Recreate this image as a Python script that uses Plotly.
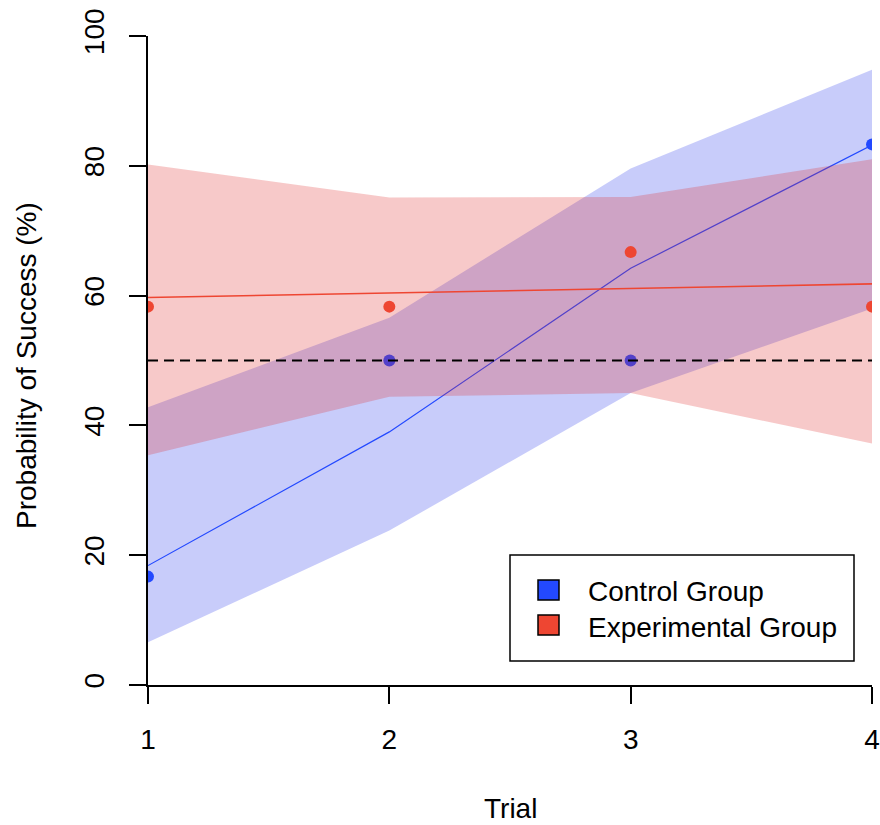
import plotly.graph_objects as go

# ---------------- data ----------------
trials = [1, 2, 3, 4]
control_obs = [16.7, 50.0, 50.0, 83.3]
exp_obs = [58.3, 58.3, 66.7, 58.3]
control_fit = [18.4, 39.0, 64.2, 83.2]
exp_fit = [59.7, 60.4, 61.1, 61.8]
control_lo = [6.6, 23.8, 45.0, 58.0]
control_hi = [42.8, 56.6, 79.6, 94.8]
exp_lo = [35.4, 44.4, 45.0, 37.2]
exp_hi = [80.2, 75.1, 75.2, 81.0]
chance_level = 50
y_ticks = [0, 20, 40, 60, 80, 100]
series_names = ["Control Group", "Experimental Group"]

# ---------------- styles ----------------
BLUE = "#2349FF"
RED = "#EE4632"
BAND_BLUE = "rgba(35,51,235,0.25)"
BAND_RED = "rgba(223,39,39,0.25)"
FONT = "Liberation Sans, Arial, sans-serif"
FS = 28

fig = go.Figure()

def band(lo, hi, color):
    return go.Scatter(
        x=trials + trials[::-1],
        y=hi + lo[::-1],
        fill="toself",
        fillcolor=color,
        mode="none",
        hoverinfo="skip",
        showlegend=False,
    )

# control group
fig.add_trace(band(control_lo, control_hi, BAND_BLUE))
fig.add_trace(go.Scatter(x=trials, y=control_fit, mode="lines",
                         line=dict(color=BLUE, width=1.2), showlegend=False))
fig.add_trace(go.Scatter(x=trials, y=control_obs, mode="markers",
                         marker=dict(color=BLUE, size=12), showlegend=False))
# experimental group
fig.add_trace(band(exp_lo, exp_hi, BAND_RED))
fig.add_trace(go.Scatter(x=trials, y=exp_fit, mode="lines",
                         line=dict(color=RED, width=1.6), showlegend=False))
fig.add_trace(go.Scatter(x=trials, y=exp_obs, mode="markers",
                         marker=dict(color=RED, size=12), showlegend=False))
# chance line
fig.add_trace(go.Scatter(x=[trials[0], trials[-1]], y=[chance_level, chance_level],
                         mode="lines",
                         line=dict(color="black", width=2, dash="10px,6px"),
                         showlegend=False))

axis_common = dict(
    showline=True, linecolor="black", linewidth=1.5,
    ticks="outside", ticklen=17, tickwidth=1.5, tickcolor="black",
    showgrid=False, zeroline=False, automargin=False,
    tickfont=dict(family=FONT, size=FS, color="black"),
)

fig.update_xaxes(range=[1, 4], tickvals=trials, ticklabelstandoff=12, **axis_common)
fig.update_yaxes(range=[0, 100], tickvals=y_ticks, tickangle=-90,
                 ticklabelstandoff=14, **axis_common)

# plot-area geometry (px) used to place legend / titles
L, R, T, B = 148, 8, 36, 140
W, H = 880, 825
pw, ph = W - L - R, H - T - B

def px(x):
    return (x - L) / pw

def py(y):
    return (H - B - y) / ph

shapes = [
    dict(type="rect", xref="paper", yref="paper",
         x0=px(510), x1=px(854), y0=py(661), y1=py(555),
         line=dict(color="black", width=1.5), fillcolor="white", layer="above"),
    dict(type="rect", xref="paper", yref="paper",
         x0=px(538), x1=px(559), y0=py(600), y1=py(580),
         line=dict(color="black", width=1.5), fillcolor=BLUE, layer="above"),
    dict(type="rect", xref="paper", yref="paper",
         x0=px(538), x1=px(559), y0=py(635), y1=py(615),
         line=dict(color="black", width=1.5), fillcolor=RED, layer="above"),
]

annotations = [
    dict(text=series_names[0], xref="paper", yref="paper", x=px(586), y=py(591),
         xanchor="left", yanchor="middle", showarrow=False,
         font=dict(family=FONT, size=FS, color="black")),
    dict(text=series_names[1], xref="paper", yref="paper", x=px(586), y=py(627),
         xanchor="left", yanchor="middle", showarrow=False,
         font=dict(family=FONT, size=FS, color="black")),
    dict(text="Trial", xref="paper", yref="paper", x=0.5, y=0, yshift=-123,
         xanchor="center", yanchor="middle", showarrow=False,
         font=dict(family=FONT, size=FS, color="black")),
    dict(text="Probability of Success (%)", xref="paper", yref="paper",
         x=0, xshift=-122, y=py(366), textangle=-90,
         xanchor="center", yanchor="middle", showarrow=False,
         font=dict(family=FONT, size=FS, color="black")),
]

fig.update_layout(
    width=W, height=H,
    margin=dict(l=L, r=R, t=T, b=B),
    paper_bgcolor="white", plot_bgcolor="white",
    showlegend=False,
    shapes=shapes,
    annotations=annotations,
)

fig.write_html("out.html")
